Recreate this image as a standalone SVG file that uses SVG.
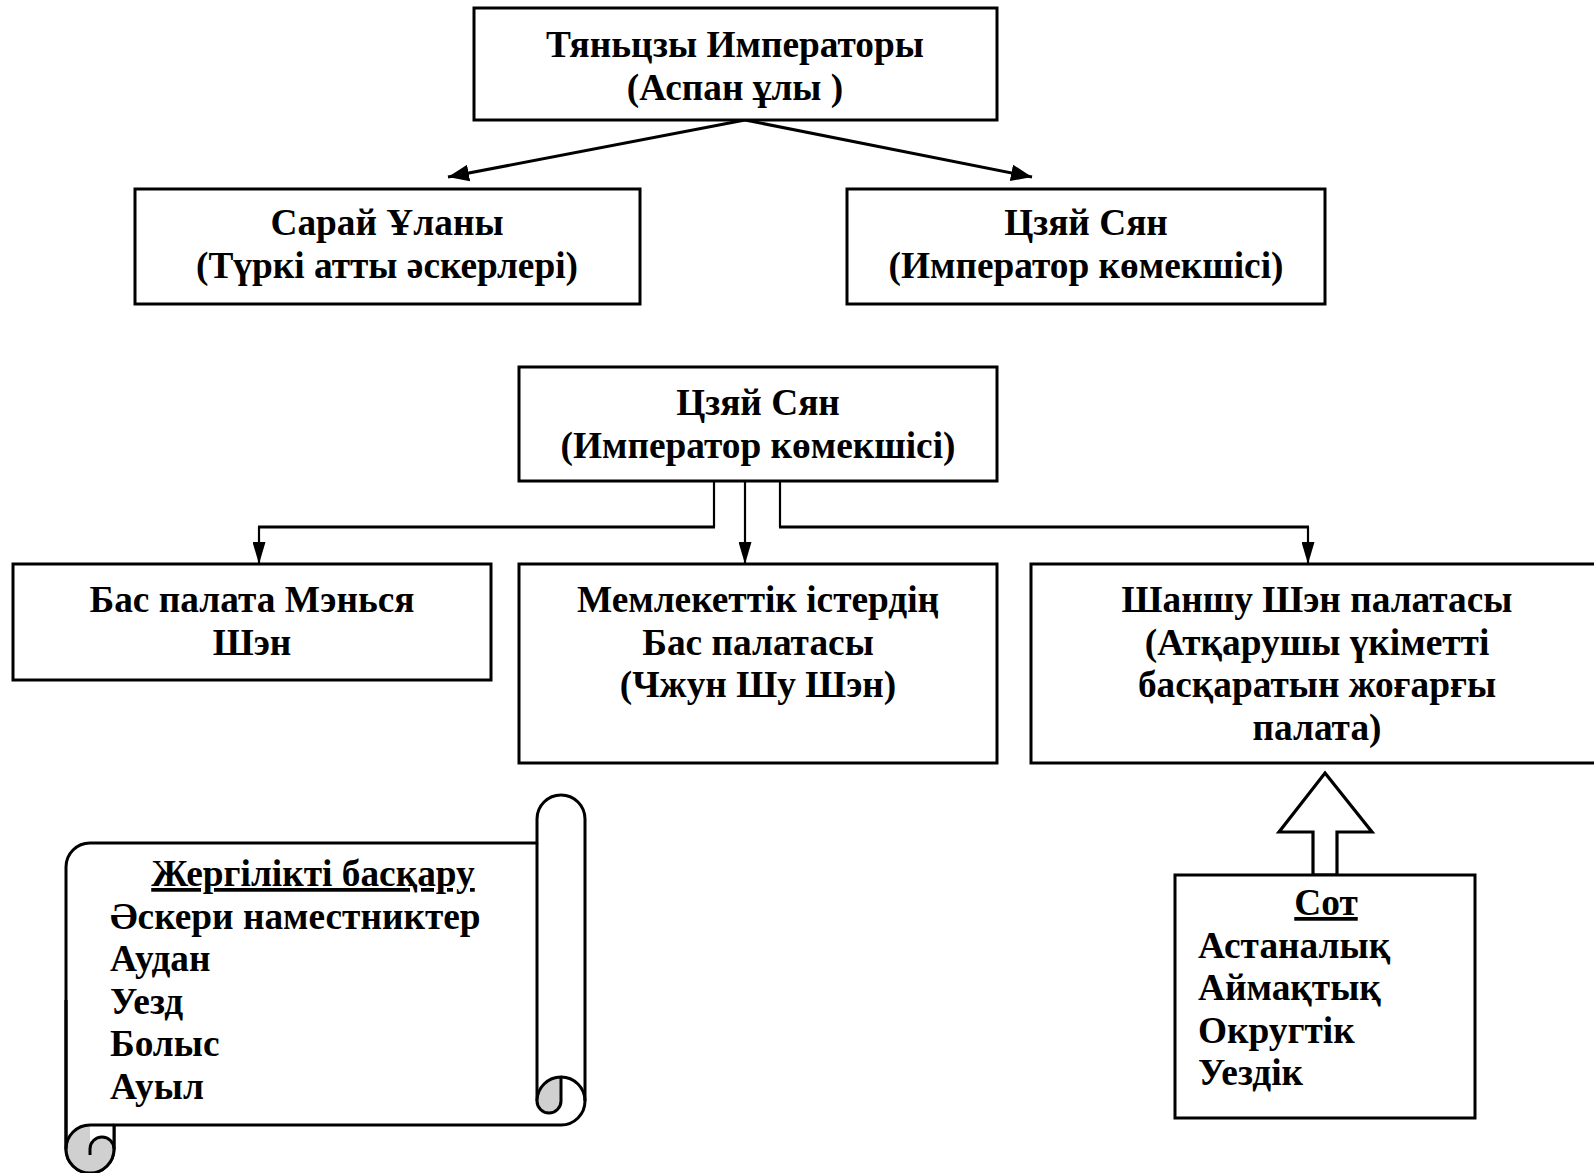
<svg xmlns="http://www.w3.org/2000/svg" width="1594" height="1173" viewBox="0 0 1594 1173">
<style>
.box{fill:#fff;stroke:#000;stroke-width:3}
.t{font-family:"Liberation Serif","Times New Roman",serif;font-weight:bold;font-size:37.33px;fill:#000}
.c{text-anchor:middle}
.u{text-decoration:underline}
.ln{fill:none;stroke:#000;stroke-width:3}
.thin{fill:none;stroke:#000;stroke-width:2.2}
.sc{stroke:#000;stroke-width:3;stroke-linejoin:round}
</style>
<defs>
<marker id="ah" viewBox="0 0 20 16" refX="20" refY="8" markerWidth="21" markerHeight="17" markerUnits="userSpaceOnUse" orient="auto"><path d="M0,0 L20,8 L0,16 Z" fill="#000"/></marker>
<marker id="an" viewBox="0 0 22 13" refX="22" refY="6.5" markerWidth="22" markerHeight="13" markerUnits="userSpaceOnUse" orient="auto"><path d="M0,0 L22,6.5 L0,13 Z" fill="#000"/></marker>
</defs>
<rect width="1594" height="1173" fill="#fff"/>

<g id="connectors">
<line class="ln" x1="745" y1="120" x2="448" y2="177" marker-end="url(#ah)"/>
<line class="ln" x1="745" y1="120" x2="1032" y2="177" marker-end="url(#ah)"/>
<polyline class="thin" points="714,481 714,527"/>
<line class="ln" x1="715" y1="527" x2="258" y2="527"/>
<line class="thin" x1="259" y1="527" x2="259" y2="564" marker-end="url(#an)"/>
<line class="thin" x1="745" y1="481" x2="745" y2="564" marker-end="url(#an)"/>
<polyline class="thin" points="780,481 780,527"/>
<line class="ln" x1="779" y1="527" x2="1309" y2="527"/>
<line class="thin" x1="1308" y1="527" x2="1308" y2="564" marker-end="url(#an)"/>
<polygon points="1325,773 1372,832 1337,832 1337,875 1313,875 1313,832 1279,832" fill="#fff" stroke="#000" stroke-width="3.2"/>
</g>

<g id="emperor">
<rect class="box" x="474" y="8" width="523" height="112"/>
<text class="t c" x="735" y="57">Тяньцзы Императоры</text>
<text class="t c" x="735" y="99.5">(Аспан ұлы )</text>
</g>

<g id="saray">
<rect class="box" x="135" y="189" width="505" height="115"/>
<text class="t c" x="387" y="235">Сарай Ұланы</text>
<text class="t c" x="387" y="278">(Түркі атты әскерлері)</text>
</g>

<g id="tszyai1">
<rect class="box" x="847" y="189" width="478" height="115"/>
<text class="t c" x="1086" y="235">Цзяй Сян</text>
<text class="t c" x="1086" y="278">(Император көмекшісі)</text>
</g>

<g id="tszyai2">
<rect class="box" x="519" y="367" width="478" height="114"/>
<text class="t c" x="758" y="415">Цзяй Сян</text>
<text class="t c" x="758" y="457.5">(Император көмекшісі)</text>
</g>

<g id="mensya">
<rect class="box" x="13" y="564" width="478" height="116"/>
<text class="t c" x="252" y="612">Бас палата Мэнься</text>
<text class="t c" x="252" y="654.5">Шэн</text>
</g>

<g id="chzhun">
<rect class="box" x="519" y="564" width="478" height="199"/>
<text class="t c" x="758" y="612">Мемлекеттік істердің</text>
<text class="t c" x="758" y="654.5">Бас палатасы</text>
<text class="t c" x="758" y="697">(Чжун Шу Шэн)</text>
</g>

<g id="shanshu">
<rect class="box" x="1031" y="564" width="573" height="199"/>
<text class="t c" x="1317" y="612">Шаншу Шэн палатасы</text>
<text class="t c" x="1317" y="654.5">(Атқарушы үкіметті</text>
<text class="t c" x="1317" y="697">басқаратын жоғарғы</text>
<text class="t c" x="1317" y="739.5">палата)</text>
</g>

<g id="sot">
<rect class="box" x="1175" y="875" width="300" height="243"/>
<text class="t c u" x="1326" y="915">Сот</text>
<text class="t" x="1198" y="957.5">Астаналық</text>
<text class="t" x="1198" y="1000">Аймақтық</text>
<text class="t" x="1198" y="1042.5">Округтік</text>
<text class="t" x="1198" y="1085">Уездік</text>
</g>

<g id="scroll">
<path class="sc" fill="#fff" d="M66,867 A24,24 0 0 1 90,843 L537,843 L537,819 A24,24 0 0 1 585,819 L585,1101 A24,24 0 0 1 561,1125 L114,1125 L114,1149 A24,24 0 0 1 66,1149 Z"/>
<path class="sc" fill="none" d="M537,843 L537,1101"/>
<path class="sc" fill="#d0d0d0" d="M537,1101 A24,24 0 0 1 561,1077 L561,1101 A12,12 0 0 1 537,1101 Z"/>
<path class="sc" fill="none" d="M561,1077 A24,24 0 0 1 585,1101"/>
<circle cx="90" cy="1149" r="24" fill="#d0d0d0"/>
<path fill="#fff" d="M90,1125 L114,1125 L114,1149 A12,12 0 0 0 90,1149 Z"/>
<path class="sc" fill="none" d="M66,1149 A24,24 0 0 1 90,1125 L114,1125"/>
<path class="sc" fill="none" d="M90,1155 L90,1149 A12,12 0 0 1 114,1149"/>
<path class="sc" fill="none" d="M114,1125 L114,1149 A24,24 0 0 1 66,1149 L66,1000"/>
<text class="t c u" x="313" y="886">Жергілікті басқару</text>
<text class="t" x="110" y="928.5">Әскери наместниктер</text>
<text class="t" x="110" y="971">Аудан</text>
<text class="t" x="110" y="1013.5">Уезд</text>
<text class="t" x="110" y="1056">Болыс</text>
<text class="t" x="110" y="1098.5">Ауыл</text>
</g>
</svg>
